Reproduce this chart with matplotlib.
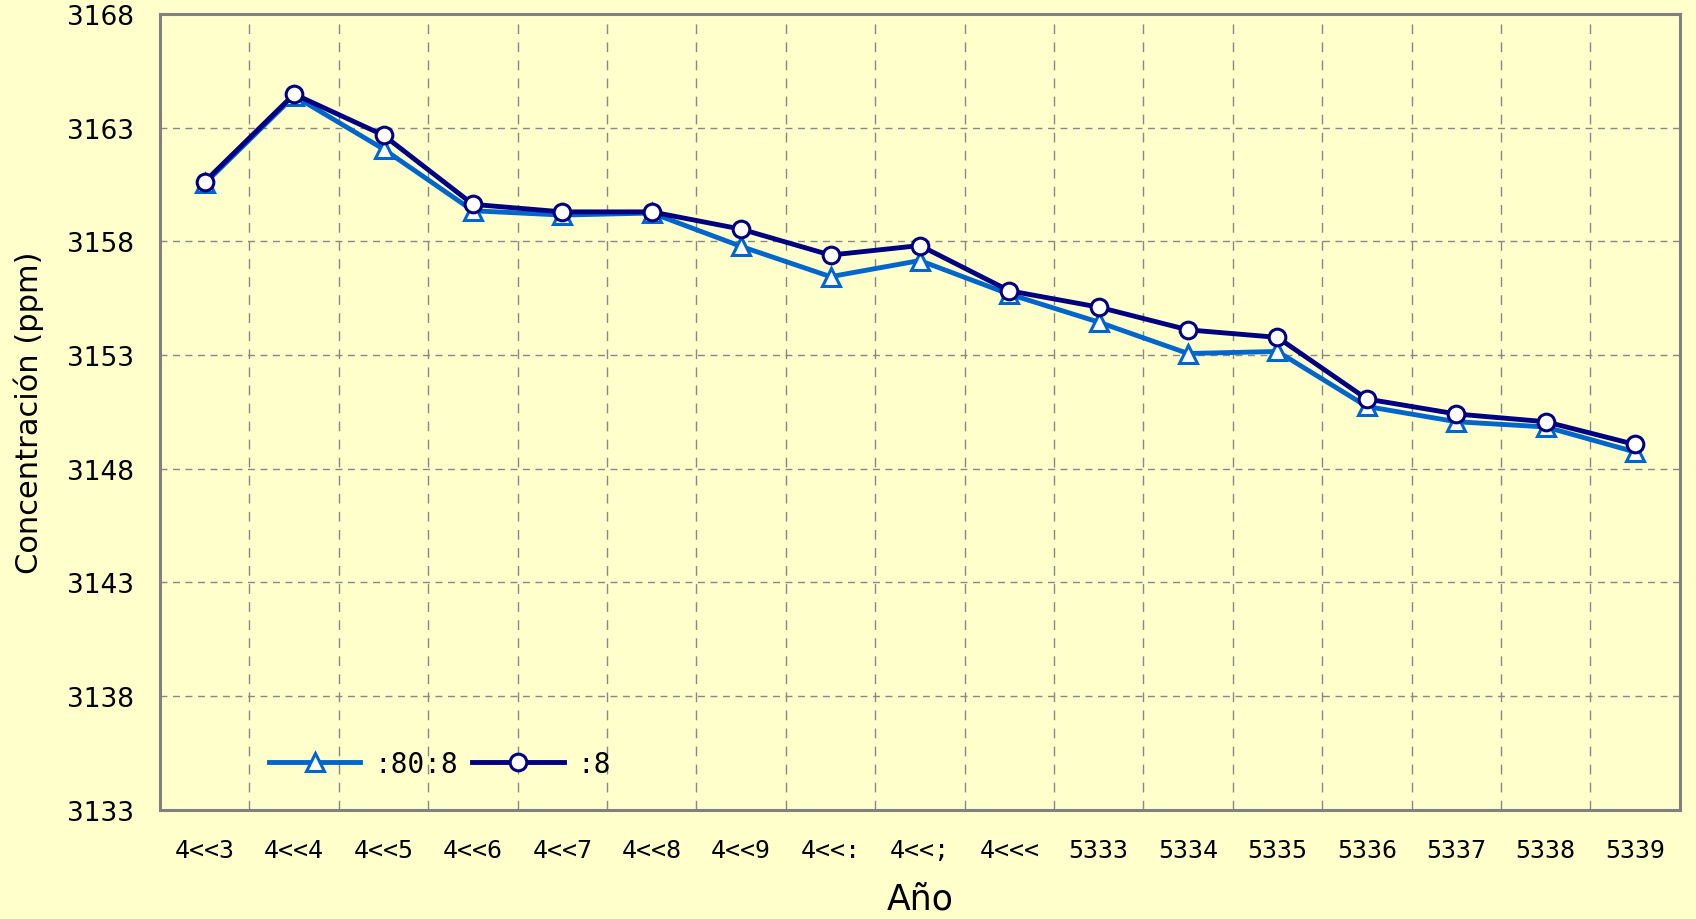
import matplotlib.pyplot as plt
import numpy as np

years = ["4<<3", "4<<4", "4<<5", "4<<6", "4<<7", "4<<8", "4<<9", "4<<:", "4<<;",
         "4<<<", "5333", "5334", "5335", "5336", "5337", "5338", "5339"]
serie_tri = [3160.55, 3164.4, 3162.06, 3159.35, 3159.16, 3159.25, 3157.78, 3156.45, 3157.16,
             3155.68, 3154.45, 3153.07, 3153.16, 3150.74, 3150.07, 3149.84, 3148.74]
serie_circ = [3160.63, 3164.48, 3162.67, 3159.63, 3159.3, 3159.3, 3158.54, 3157.4, 3157.82,
              3155.83, 3155.11, 3154.11, 3153.78, 3151.07, 3150.41, 3150.07, 3149.07]
y_ticks = [3133, 3138, 3143, 3148, 3153, 3158, 3163, 3168]
y_labels = ["3133", "3138", "3143", "3148", "3153", "3158", "3163", "3168"]
labels = [":80:8", ":8"]

bg = "#FFFFCC"
fig = plt.figure(figsize=(16.96, 9.2), dpi=100, facecolor=bg)
ax = fig.add_axes([0.0944, 0.1187, 0.8960, 0.8649])
ax.set_facecolor(bg)

x = np.arange(len(years))
ax.plot(x, serie_tri, color="#0066CC", lw=3.5, marker="^", ms=13, mfc="white",
        mec="#0066CC", mew=2.2, label=labels[0], zorder=3)
ax.plot(x, serie_circ, color="#000080", lw=3.5, marker="o", ms=12, mfc="white",
        mec="#000080", mew=2.2, label=labels[1], zorder=4)

ax.set_xlim(-0.5, len(years) - 0.5)
ax.set_ylim(3133, 3168)
ax.set_xticks(x)
ax.set_xticklabels(years, fontfamily="DejaVu Sans Mono", fontsize=18)
ax.set_xticks(np.arange(0.5, len(years) - 1, 1), minor=True)
ax.set_yticks(y_ticks)
ax.set_yticklabels(y_labels, fontsize=19)
ax.tick_params(axis="both", which="both", length=0)
ax.tick_params(axis="x", pad=20)
ax.tick_params(axis="y", pad=19)

ax.grid(axis="y", which="major", ls=(0, (5, 4)), color="#888888", lw=1)
ax.grid(axis="x", which="minor", ls=(0, (7, 6)), color="#888888", lw=1)
ax.set_axisbelow(True)

for s in ax.spines.values():
    s.set_color("#808080")
    s.set_linewidth(2.2)

ax.set_xlabel("Año", fontsize=25, labelpad=14)
ax.set_ylabel("Concentración (ppm)", fontsize=22, labelpad=16)

ax.legend(loc="lower left", bbox_to_anchor=(0.055, 0.009), ncol=2, frameon=False,
          prop={"family": "DejaVu Sans Mono", "size": 20},
          handlelength=3.3, columnspacing=0.5, handletextpad=0.5)

fig.savefig("out.png", dpi=100, facecolor=bg)
